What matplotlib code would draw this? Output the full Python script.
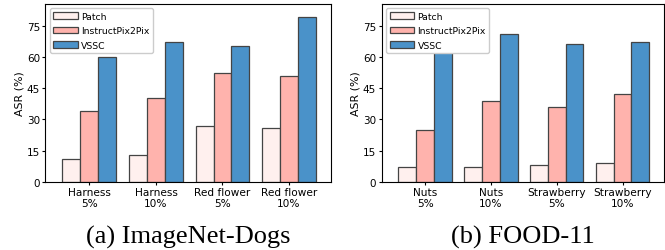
import numpy as np
import matplotlib.pyplot as plt
import matplotlib as mpl
mpl.rc("font", family="DejaVu Sans", size=7.5)

# ----- data -----
methods = ["Patch", "InstructPix2Pix", "VSSC"]

dogs_labels = ["Harness\n5%", "Harness\n10%", "Red flower\n5%", "Red flower\n10%"]
dogs_patch = [11, 13, 27, 26]
dogs_ip2p = [34, 40, 52, 51]
dogs_vssc = [60, 67, 65, 79]

food_labels = ["Nuts\n5%", "Nuts\n10%", "Strawberry\n5%", "Strawberry\n10%"]
food_patch = [7, 7, 8, 9]
food_ip2p = [25, 39, 36, 42]
food_vssc = [63, 71, 66, 67]

captions = ["(a) ImageNet-Dogs", "(b) FOOD-11"]
yticks = [0, 15, 30, 45, 60, 75]

# ----- style -----
colorlist = ["#fff0ee", "#ffb3ad", "#4a92c9"]
edgecolor = "#444444"
width = 0.27

fig = plt.figure(figsize=(6.65, 2.51), dpi=100)
axes_pos = [[0.0684, 0.272, 0.4293, 0.709], [0.574, 0.272, 0.4245, 0.709]]

panels = [
    (dogs_labels, [dogs_patch, dogs_ip2p, dogs_vssc]),
    (food_labels, [food_patch, food_ip2p, food_vssc]),
]

for idx, (labels, series) in enumerate(panels):
    ax = fig.add_axes(axes_pos[idx])
    x = np.arange(len(labels))
    for s_idx, vals in enumerate(series):
        ax.bar(x + (s_idx - 1) * width, vals, width,
               color=colorlist[s_idx], edgecolor=edgecolor, linewidth=0.9,
               label=methods[s_idx])
    ax.set_xticks(x)
    ax.set_xticklabels(labels, fontsize=7.6, linespacing=1.05)
    ax.set_yticks(yticks)
    ax.tick_params(axis="both", length=2.4, pad=1.6)
    ax.tick_params(axis="y", labelsize=7.5)
    ax.set_xlim(-0.66, 3.63)
    ax.set_ylim(0, 85.5)
    ax.set_ylabel("ASR (%)", fontsize=7.9, labelpad=1.5)
    leg = ax.legend(loc="upper left", fontsize=6.7, handlelength=2.6,
                    labelspacing=0.6, fancybox=True, framealpha=1.0,
                    borderaxespad=0.5, borderpad=0.35, handletextpad=0.4)
    leg.set_zorder(5)
    cx = axes_pos[idx][0] + axes_pos[idx][2] / 2
    fig.text(cx, 0.052, captions[idx], ha="center", va="center",
             family="Liberation Serif", fontsize=19)

plt.savefig("out.png", dpi=100)
